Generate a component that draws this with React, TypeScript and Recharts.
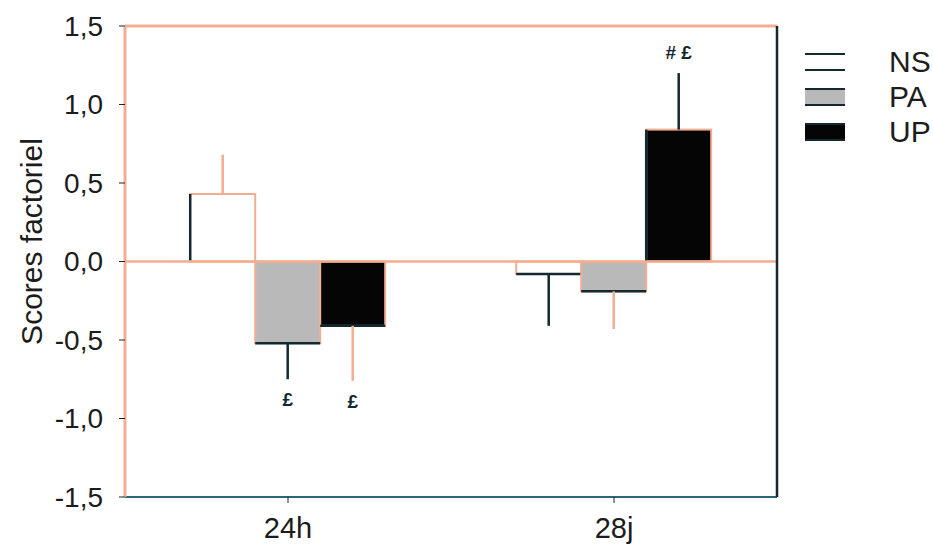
import { BarChart, Bar, XAxis, YAxis, ErrorBar, ReferenceLine, LabelList } from 'recharts'

// values
const categories = ['24h', '28j']
const nsScores = [0.43, -0.08]
const paScores = [-0.52, -0.19]
const upScores = [-0.41, 0.84]
const nsErrors = [0.25, 0.33]
const paErrors = [0.23, 0.24]
const upErrors = [0.35, 0.36]
const nsMarks = ['', '']
const paMarks = ['£', '']
const upMarks = ['£', '# £']
const yTicks = [-1.5, -1, -0.5, 0, 0.5, 1, 1.5]

// which error bars come out dark in the scan, the others are salmon
const nsErrInk = ['light', 'dark']
const paErrInk = ['dark', 'light']
const upErrInk = ['light', 'dark']

const SALMON = '#f2ad92'
const INK = '#14282f'
const AXIS_BLUE = '#2c6478'
const FONT = '"Liberation Sans", Arial, sans-serif'

// error drawn only away from zero
const oneSided = (v: number, e: number) => (v >= 0 ? [0, e] : [e, 0])

const rows = categories.map((cat, i) => ({
  cat,
  NS: nsScores[i],
  PA: paScores[i],
  UP: upScores[i],
  nsDark: nsErrInk[i] === 'dark' ? oneSided(nsScores[i], nsErrors[i]) : null,
  nsLight: nsErrInk[i] === 'light' ? oneSided(nsScores[i], nsErrors[i]) : null,
  paDark: paErrInk[i] === 'dark' ? oneSided(paScores[i], paErrors[i]) : null,
  paLight: paErrInk[i] === 'light' ? oneSided(paScores[i], paErrors[i]) : null,
  upDark: upErrInk[i] === 'dark' ? oneSided(upScores[i], upErrors[i]) : null,
  upLight: upErrInk[i] === 'light' ? oneSided(upScores[i], upErrors[i]) : null,
  nsMark: nsMarks[i],
  paMark: paMarks[i],
  upMark: upMarks[i],
}))

const fmt = (v: number) => v.toFixed(1).replace('.', ',')

const makeShape = (vals: number[]) => (props: any) => {
  const { x, y, width, height, fill, index } = props
  const top = height < 0 ? y + height : y
  const h = Math.abs(height)
  const neg = vals[index] < 0
  return (
    <g>
      <rect x={x} y={top} width={width} height={h} fill={fill} stroke={SALMON} strokeWidth={2} />
      {neg ? (
        <line x1={x} x2={x + width} y1={top + h} y2={top + h} stroke={INK} strokeWidth={2.5} />
      ) : (
        <line x1={x} x2={x} y1={top} y2={top + h} stroke={INK} strokeWidth={2.5} />
      )}
    </g>
  )
}

const makeMark = (vals: number[], errs: number[]) => (props: any) => {
  const { value, index } = props
  if (!value) return null
  const vb = props.viewBox ?? props
  const top = vb.height < 0 ? vb.y + vb.height : vb.y
  const h = Math.abs(vb.height)
  const v = vals[index]
  const perUnit = h / Math.abs(v)
  const cx = vb.x + vb.width / 2
  const yPos = v >= 0 ? top - errs[index] * perUnit - 14 : top + h + errs[index] * perUnit + 27
  return (
    <text x={cx} y={yPos} textAnchor="middle" fontFamily={FONT} fontWeight="bold" fontSize={19} fill={INK}>
      {value}
    </text>
  )
}

const legendItems = [
  { name: 'NS', fill: '#ffffff' },
  { name: 'PA', fill: '#b9b9b9' },
  { name: 'UP', fill: '#050505' },
]

const LegendBox = () => (
  <div style={{ position: 'absolute', left: 805, top: 44, fontFamily: FONT }}>
    {legendItems.map((it) => (
      <div key={it.name} style={{ display: 'flex', alignItems: 'center', height: 35 }}>
        <div
          style={{
            width: 40,
            height: 14,
            background: it.fill,
            borderTop: `2px solid ${INK}`,
            borderBottom: `2px solid ${INK}`,
          }}
        />
        <span style={{ marginLeft: 44, fontSize: 30, color: '#1c1c1c', lineHeight: '35px' }}>{it.name}</span>
      </div>
    ))}
  </div>
)

export default function App() {
  return (
    <div style={{ position: 'absolute', left: 0, top: 0, width: 933, height: 549, background: '#fff', overflow: 'hidden' }}>
      <BarChart
        width={933}
        height={549}
        data={rows}
        margin={{ top: 26, right: 155, bottom: 0, left: 0 }}
        barCategoryGap="20%"
        barGap={0}
      >
        <XAxis
          dataKey="cat"
          axisLine={{ stroke: AXIS_BLUE, strokeWidth: 2 }}
          tickLine={{ stroke: INK }}
          tickSize={6}
          tickMargin={14}
          height={52}
          tick={{ fill: '#1c1c1c', fontSize: 29, fontFamily: FONT }}
        />
        <YAxis
          domain={[-1.5, 1.5]}
          ticks={yTicks}
          tickFormatter={fmt}
          width={125}
          axisLine={{ stroke: SALMON, strokeWidth: 3 }}
          tickLine={{ stroke: INK }}
          tickSize={6}
          tickMargin={16}
          tick={{ fill: '#1c1c1c', fontSize: 28, fontFamily: FONT }}
          label={{
            content: (p: any) => {
              const vb = p.viewBox
              const cy = vb.y + vb.height / 2 - 20
              return (
                <text x={31} y={cy} transform={`rotate(-90, 31, ${cy})`} textAnchor="middle" dominantBaseline="central" fontFamily={FONT} fontSize={30} fill="#1c1c1c">
                  Scores factoriel
                </text>
              )
            },
          }}
        />
        <YAxis yAxisId="right" orientation="right" domain={[-1.5, 1.5]} width={1} tick={false} tickLine={false} axisLine={{ stroke: INK, strokeWidth: 2.5 }} />
        <ReferenceLine y={1.5} stroke={SALMON} strokeWidth={3} />
        <ReferenceLine y={0} stroke={SALMON} strokeWidth={2.5} />
        <Bar dataKey="NS" fill="#ffffff" isAnimationActive={false} shape={makeShape(nsScores)}>
          <ErrorBar dataKey="nsDark" direction="y" width={0} stroke={INK} strokeWidth={2.5} />
          <ErrorBar dataKey="nsLight" direction="y" width={0} stroke={SALMON} strokeWidth={2.5} />
          <LabelList dataKey="nsMark" content={makeMark(nsScores, nsErrors)} />
        </Bar>
        <Bar dataKey="PA" fill="#b9b9b9" isAnimationActive={false} shape={makeShape(paScores)}>
          <ErrorBar dataKey="paDark" direction="y" width={0} stroke={INK} strokeWidth={2.5} />
          <ErrorBar dataKey="paLight" direction="y" width={0} stroke={SALMON} strokeWidth={2.5} />
          <LabelList dataKey="paMark" content={makeMark(paScores, paErrors)} />
        </Bar>
        <Bar dataKey="UP" fill="#050505" isAnimationActive={false} shape={makeShape(upScores)}>
          <ErrorBar dataKey="upDark" direction="y" width={0} stroke={INK} strokeWidth={2.5} />
          <ErrorBar dataKey="upLight" direction="y" width={0} stroke={SALMON} strokeWidth={2.5} />
          <LabelList dataKey="upMark" content={makeMark(upScores, upErrors)} />
        </Bar>
      </BarChart>
      <LegendBox />
    </div>
  )
}
